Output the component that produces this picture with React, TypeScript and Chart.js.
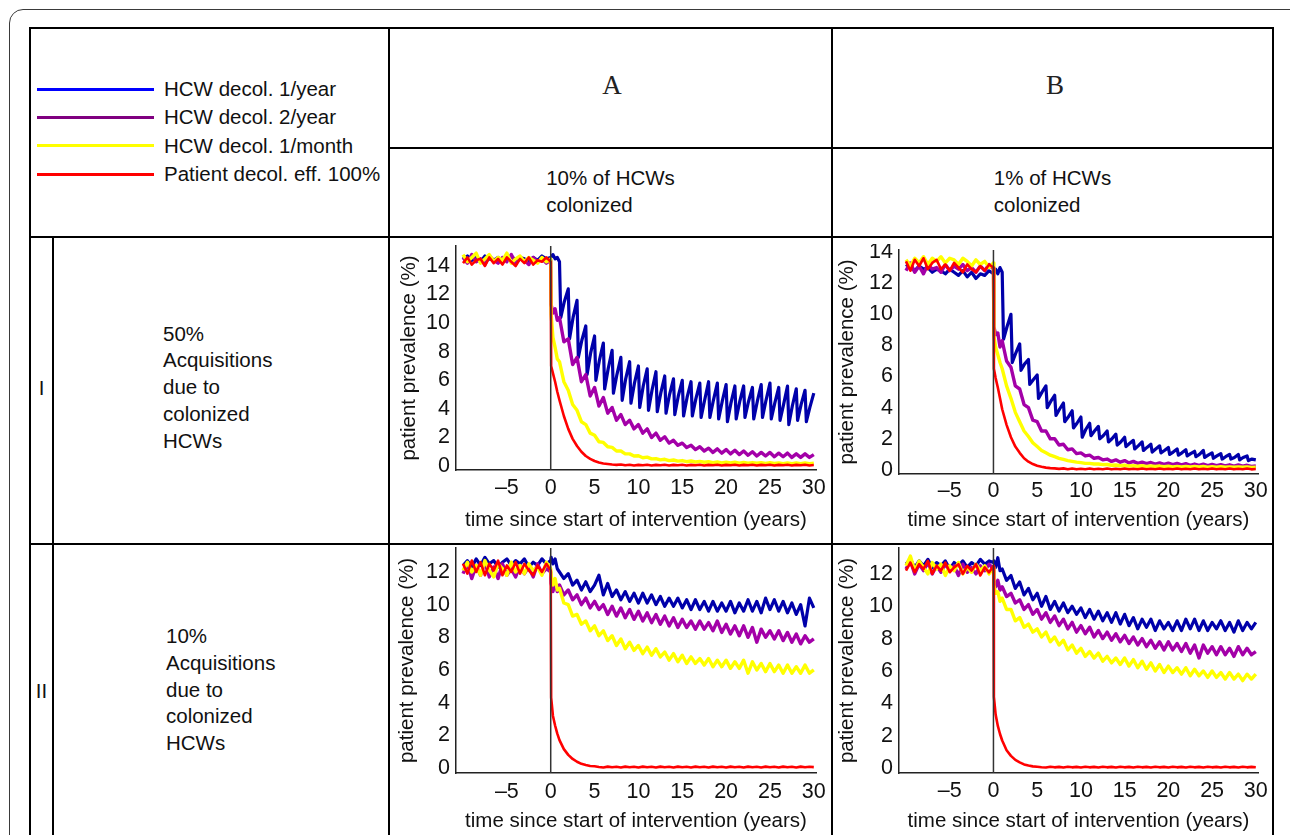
import React, { useEffect, useRef } from 'react';
import { Chart, registerables } from 'chart.js';
Chart.register(...registerables);

// ---------- time axes (years since start of intervention) ----------
const tMain = [-10,-9.5,-9,-8.5,-8,-7.5,-7,-6.5,-6,-5.5,-5,-4.5,-4,-3.5,-3,-2.5,-2,-1.5,-1,-0.5,0,
  0.05,0.25,0.5,0.75,
  1,1.5,2,2.5,3,3.5,4,4.5,5,5.5,6,6.5,7,7.5,8,8.5,9,9.5,10,10.5,11,11.5,12,12.5,13,13.5,14,14.5,15,15.5,
  16,16.5,17,17.5,18,18.5,19,19.5,20,20.5,21,21.5,22,22.5,23,23.5,24,24.5,25,25.5,26,26.5,27,27.5,28,28.5,29,29.5,30];

const tSaw = [-10,-9.5,-9,-8.5,-8,-7.5,-7,-6.5,-6,-5.5,-5,-4.5,-4,-3.5,-3,-2.5,-2,-1.5,-1,-0.5,0,
  0.25,0.5,0.75,1,
  1.15,1.55,2, 2.15,2.55,3, 3.15,3.55,4, 4.15,4.55,5, 5.15,5.55,6, 6.15,6.55,7, 7.15,7.55,8, 8.15,8.55,9,
  9.15,9.55,10, 10.15,10.55,11, 11.15,11.55,12, 12.15,12.55,13, 13.15,13.55,14, 14.15,14.55,15,
  15.15,15.55,16, 16.15,16.55,17, 17.15,17.55,18, 18.15,18.55,19, 19.15,19.55,20, 20.15,20.55,21,
  21.15,21.55,22, 22.15,22.55,23, 23.15,23.55,24, 24.15,24.55,25, 25.15,25.55,26, 26.15,26.55,27,
  27.15,27.55,28, 28.15,28.55,29, 29.15,29.55,30];

const xTickValues = [-5, 0, 5, 10, 15, 20, 25, 30];
const yTicksI = [0, 2, 4, 6, 8, 10, 12, 14];
const yTicksII = [0, 2, 4, 6, 8, 10, 12];

// ---------- Row I, column A (50% acquisitions, 10% HCWs colonized) ----------
const iaBlue = [14.5,14.7,14.4,14.6,14.3,14.7,14.5,14.4,14.6,14.3,14.5,14.7,14.4,14.6,14.5,14.3,14.6,14.4,14.7,14.5,14.6,
  14.8,14.5,14.6,14.3,
  10.4,11.5,12.4, 8.9,10.4,11.6, 7.6,8.8,9.8, 6.4,7.9,9.1, 6.0,7.4,8.6, 5.4,6.8,8.1, 5.1,6.4,7.6, 4.6,6.1,7.3,
  4.4,5.8,7.0, 4.1,5.6,6.8, 3.9,5.3,6.6, 3.8,5.1,6.3, 3.7,5.0,6.1, 3.6,4.9,6.0, 3.5,4.8,5.9, 3.5,4.7,5.8,
  3.4,4.6,5.9, 3.4,4.6,5.8, 3.3,4.5,5.7, 3.1,4.4,5.6, 3.3,4.5,5.6, 3.4,4.5,5.5, 3.3,4.5,5.7, 3.4,4.6,5.8,
  3.3,4.4,5.5, 3.2,4.3,5.6, 2.9,4.2,5.4, 3.2,4.3,5.3, 3.1,4.1,5.1];
const iaPurple = [14.6,14.2,14.8,14.3,14.5,14.1,14.7,14.4,14.2,14.6,14.3,14.8,14.2,14.5,14.4,14.1,14.6,14.3,14.5,14.2,14.4,
  11.3,10.7,11.0,10.2,
  10.4,8.7,8.9,7.1,7.6,5.9,6.4,4.9,5.5,4.2, 4.8,3.7,4.1,3.2,3.6,2.9,3.2,2.6,2.9,2.3,
  2.6,2.0,2.3,1.8,2.05,1.6,1.8,1.45,1.6,1.3, 1.45,1.15,1.35,1.05,1.25,0.95,1.2,0.9,1.15,0.85,
  1.1,0.8,1.05,0.75,1.0,0.7,0.95,0.7,0.95,0.65, 0.9,0.65,0.9,0.6,0.85,0.6,0.85,0.6,0.8];
const iaYellow = [14.8,14.3,14.6,14.9,14.2,14.5,14.8,14.3,14.6,14.4,14.9,14.2,14.5,14.7,14.3,14.6,14.4,14.2,14.6,14.3,14.5,
  10.6,9.0,8.3,7.5,
  7.3,5.9,5.3,4.3,3.9,3.1,2.9,2.3,2.15,1.7, 1.65,1.35,1.3,1.05,1.05,0.85,0.85,0.7,0.72,0.58,
  0.62,0.5,0.52,0.43,0.47,0.38,0.42,0.34,0.38,0.3, 0.35,0.28,0.32,0.26,0.3,0.24,0.28,0.22,0.27,0.21,
  0.26,0.2,0.25,0.2,0.24,0.19,0.23,0.18,0.23,0.18, 0.22,0.17,0.22,0.17,0.21,0.17,0.21,0.17,0.2];
const iaRed = [14.2,14.6,14.1,14.4,14.5,14.0,14.6,14.2,14.5,14.1,14.6,14.3,14.0,14.5,14.2,14.6,14.1,14.4,14.3,14.6,14.3,
  7.0,6.5,5.9,5.2,
  4.6,3.5,2.6,1.9,1.4,1.0,0.7,0.5,0.35,0.25, 0.18,0.14,0.1,0.08,0.11,0.05,0.09,0.04,0.08,0.05,
  0.09,0.04,0.08,0.05,0.09,0.04,0.08,0.05,0.09,0.04, 0.08,0.05,0.09,0.04,0.08,0.05,0.09,0.04,0.08,0.05,
  0.09,0.04,0.08,0.05,0.09,0.04,0.08,0.05,0.09,0.04, 0.08,0.05,0.09,0.04,0.08,0.05,0.09,0.04,0.07];

// ---------- Row I, column B (50% acquisitions, 1% HCWs colonized) ----------
const ibBlue = [13.2,13.0,12.8,13.1,12.9,13.0,12.7,12.9,12.8,12.6,12.9,12.7,12.5,12.8,12.4,12.7,12.3,12.6,12.5,12.8,12.6,
  12.9,12.6,13.0,12.7,
  8.4,9.2,10.0, 6.9,7.5,8.1, 6.4,6.8,7.1, 5.5,5.8,6.1, 4.6,5.0,5.4, 4.0,4.4,4.8, 3.5,3.9,4.3, 3.1,3.4,3.8,
  2.7,3.0,3.4, 2.1,2.6,3.0, 2.2,2.5,2.8, 2.0,2.2,2.5, 1.8,2.0,2.3, 1.6,1.8,2.1, 1.5,1.7,1.9, 1.35,1.55,1.8,
  1.25,1.45,1.65, 1.15,1.35,1.55, 1.1,1.25,1.45, 1.0,1.15,1.35, 0.95,1.1,1.3, 0.9,1.05,1.2, 0.85,1.0,1.25,
  0.8,0.95,1.1, 0.75,0.9,1.05, 0.7,0.85,1.0, 0.7,0.8,1.0, 0.65,0.8,0.9, 0.6,0.7,0.65];
const ibPurple = [12.8,13.3,12.7,13.1,12.6,13.2,12.9,13.0,12.7,13.2,12.8,13.1,12.9,13.2,12.8,13.0,12.7,13.1,12.8,13.2,12.9,
  9.2,8.7,8.8,7.9,
  8.3,7.0,6.6,5.4,5.2,4.2,4.0,3.2,3.1,2.5, 2.5,2.0,2.0,1.6,1.65,1.3,1.35,1.05,1.1,0.9,
  0.95,0.75,0.8,0.65,0.7,0.55,0.65,0.5,0.6,0.45, 0.55,0.42,0.5,0.4,0.48,0.38,0.45,0.36,0.44,0.34,
  0.42,0.32,0.4,0.3,0.38,0.3,0.37,0.28,0.35,0.27, 0.34,0.26,0.33,0.25,0.32,0.24,0.3,0.23,0.25];
const ibYellow = [13.5,13.1,13.6,13.3,13.7,13.2,13.6,13.4,13.7,13.3,13.6,13.5,13.2,13.6,13.4,13.1,13.5,13.2,13.4,13.0,13.3,
  8.6,7.9,7.4,6.9,
  6.5,5.4,4.6,3.7,3.1,2.5,2.15,1.75,1.5,1.25, 1.1,0.95,0.85,0.75,0.68,0.6,0.55,0.5,0.47,0.42,
  0.42,0.38,0.38,0.34,0.35,0.3,0.32,0.27,0.3,0.25, 0.28,0.24,0.27,0.23,0.26,0.22,0.25,0.21,0.24,0.2,
  0.23,0.2,0.23,0.19,0.22,0.19,0.22,0.18,0.21,0.18, 0.21,0.17,0.2,0.17,0.2,0.17,0.2,0.16,0.18];
const ibRed = [13.4,12.8,13.5,13.1,13.6,12.9,13.3,13.5,12.9,13.2,12.8,13.3,13.0,12.7,13.2,12.9,12.7,13.1,12.8,13.2,13.0,
  6.5,5.9,5.3,4.6,
  3.9,2.9,2.1,1.5,1.1,0.75,0.53,0.38,0.27,0.2, 0.15,0.12,0.1,0.07,0.1,0.05,0.09,0.04,0.08,0.05,
  0.09,0.04,0.08,0.05,0.09,0.04,0.08,0.05,0.09,0.04, 0.08,0.05,0.09,0.04,0.08,0.05,0.09,0.04,0.08,0.05,
  0.09,0.04,0.08,0.05,0.09,0.04,0.08,0.05,0.09,0.04, 0.08,0.05,0.09,0.04,0.08,0.05,0.09,0.04,0.06];

// ---------- Row II, column A (10% acquisitions, 10% HCWs colonized) ----------
const iiaBlue = [12.4,12.7,12.3,12.8,12.4,12.9,12.5,12.7,12.3,12.6,12.8,12.4,12.7,12.5,12.8,12.3,12.6,12.4,12.8,12.5,12.7,
  12.9,12.5,12.8,12.2,
  12.0,11.6,11.9,11.2,11.5,10.9,11.4,10.8,11.2,11.8, 10.6,11.3,10.5,10.9,10.3,10.8,10.2,10.7,10.1,10.7,
  10.1,10.6,10.0,10.5,9.9,10.4,9.9,10.4,9.8,10.3, 9.7,10.3,9.7,10.2,9.6,10.2,9.6,10.1,9.6,10.2,
  9.5,10.1,9.6,10.3,9.6,10.2,9.5,10.4,9.7,10.3, 9.6,10.2,9.5,10.1,9.4,10.0,8.7,10.4,9.8];
const iiaPurple = [11.9,12.5,11.6,12.4,11.8,12.6,11.7,12.3,11.6,12.5,11.8,12.2,11.7,12.4,11.9,12.3,11.7,12.5,11.9,12.2,12.0,
  11.3,10.8,11.4,10.8,
  11.2,10.6,10.9,10.3,10.6,10.0,10.4,9.8,10.2,9.7, 10.0,9.4,9.9,9.3,9.8,9.2,9.7,9.1,9.6,9.0,
  9.5,8.9,9.4,8.8,9.3,8.7,9.2,8.6,9.1,8.6, 9.0,8.5,9.0,8.5,8.9,8.4,9.0,8.3,8.8,8.2,
  8.7,8.1,8.7,8.0,8.6,7.7,8.5,8.0,8.4,7.9, 8.4,7.8,8.3,7.7,8.2,7.6,8.1,7.7,7.9];
const iiaYellow = [12.1,12.6,12.0,12.4,11.8,12.7,12.1,11.7,12.5,12.2,11.8,12.6,12.0,12.4,11.9,12.5,12.1,12.3,11.8,12.6,12.2,
  11.8,11.2,11.6,10.9,
  11.0,10.1,10.0,9.3,9.4,8.8,9.0,8.4,8.7,8.1, 8.4,7.8,8.1,7.5,7.9,7.3,7.7,7.2,7.5,7.0,
  7.4,6.9,7.3,6.8,7.1,6.6,7.0,6.5,6.9,6.4, 6.8,6.4,6.7,6.3,6.7,6.2,6.6,6.2,6.6,6.1,
  6.5,6.1,6.6,5.8,6.5,6.0,6.4,5.9,6.4,5.9, 6.3,5.8,6.3,5.8,6.2,5.8,6.3,5.8,6.0];
const iiaRed = [12.5,11.9,12.7,12.0,12.6,11.8,12.5,12.1,12.7,11.8,12.4,12.0,12.6,11.9,12.5,12.1,11.8,12.4,12.0,12.5,12.1,
  4.3,3.2,2.6,2.1,
  1.7,1.15,0.8,0.55,0.38,0.25,0.18,0.12,0.1,0.06, 0.03,0.08,0.04,0.07,0.03,0.08,0.04,0.07,0.03,0.08,
  0.04,0.07,0.03,0.08,0.04,0.07,0.03,0.08,0.04,0.07, 0.03,0.08,0.04,0.07,0.03,0.08,0.04,0.07,0.03,0.08,
  0.04,0.07,0.03,0.08,0.04,0.07,0.03,0.08,0.04,0.07, 0.03,0.08,0.04,0.07,0.03,0.08,0.04,0.07,0.05];

// ---------- Row II, column B (10% acquisitions, 1% HCWs colonized) ----------
const iibBlue = [12.6,12.9,12.4,12.8,12.5,12.9,12.4,12.7,12.5,12.8,12.3,12.7,12.5,12.8,12.4,12.7,12.5,12.9,12.6,12.8,12.7,
  12.8,12.4,13.0,12.2,
  12.3,11.6,11.9,11.1,11.5,10.7,11.1,10.4,10.8,10.0, 10.6,9.8,10.3,9.7,10.2,9.6,10.0,9.5,9.9,9.3,
  9.8,9.2,9.7,9.1,9.6,9.0,9.6,8.9,9.5,8.8, 9.3,8.6,9.2,8.7,9.2,8.5,9.1,8.6,9.0,8.5,
  9.1,8.5,9.2,8.6,9.2,8.5,9.1,8.5,9.0,8.6, 9.1,8.5,9.0,8.4,9.1,8.5,9.0,8.6,9.0];
const iibPurple = [12.3,12.8,12.0,12.6,12.2,12.7,12.0,12.5,12.1,12.6,12.2,12.5,11.9,12.6,12.1,12.4,12.0,12.5,12.2,12.6,12.3,
  11.6,11.2,11.6,11.0,
  11.2,10.6,10.8,10.2,10.4,9.8,10.1,9.5,9.8,9.2, 9.6,9.0,9.4,8.8,9.2,8.6,9.0,8.4,8.8,8.3,
  8.7,8.1,8.5,8.0,8.4,7.9,8.3,7.8,8.2,7.7, 8.1,7.6,8.0,7.5,7.9,7.4,7.8,7.3,7.8,7.3,
  7.7,7.2,7.7,7.1,7.6,6.8,7.6,7.1,7.5,7.0, 7.5,7.0,7.4,6.9,7.5,7.0,7.4,7.0,7.2];
const iibYellow = [12.5,13.1,12.2,12.8,12.4,12.0,12.7,12.3,12.6,11.9,12.5,12.2,12.7,12.0,12.4,12.1,12.6,12.2,12.5,12.0,12.4,
  11.3,10.8,10.9,10.3,
  10.5,9.8,9.8,9.1,9.3,8.7,8.9,8.4,8.6,8.1, 8.4,7.8,8.1,7.6,7.9,7.3,7.6,7.1,7.4,6.9,
  7.2,6.8,7.1,6.6,6.9,6.5,6.8,6.4,6.8,6.3, 6.7,6.2,6.6,6.1,6.5,6.0,6.4,5.9,6.3,5.9,
  6.2,5.8,6.2,5.7,6.1,5.7,6.0,5.6,6.0,5.6, 5.9,5.5,5.9,5.5,5.8,5.4,5.8,5.5,5.8];
const iibRed = [12.2,12.7,12.1,12.6,12.3,12.8,12.0,12.5,12.2,12.7,12.1,12.4,12.6,12.0,12.5,12.2,12.6,11.9,12.4,12.1,12.5,
  4.4,3.3,2.6,2.1,
  1.7,1.1,0.75,0.5,0.35,0.22,0.15,0.1,0.08,0.05, 0.03,0.08,0.04,0.07,0.03,0.08,0.04,0.07,0.03,0.08,
  0.04,0.07,0.03,0.08,0.04,0.07,0.03,0.08,0.04,0.07, 0.03,0.08,0.04,0.07,0.03,0.08,0.04,0.07,0.03,0.08,
  0.04,0.07,0.03,0.08,0.04,0.07,0.03,0.08,0.04,0.07, 0.03,0.08,0.04,0.07,0.03,0.08,0.04,0.07,0.05];

// ---------- legend ----------
const legendLabels = ['HCW decol. 1/year', 'HCW decol. 2/year', 'HCW decol. 1/month', 'Patient decol. eff. 100%'];
const legendColors = ['#0000ff', '#800080', '#ffff00', '#ff0000'];
const plotColors = { blue: '#0000aa', purple: '#a300a8', yellow: '#ffff00', red: '#ff0000' };

const SANS = '"Liberation Sans", Arial, Helvetica, sans-serif';

function zip(t: number[], v: number[]) {
  const n = Math.min(t.length, v.length);
  const out: { x: number; y: number }[] = [];
  for (let i = 0; i < n; i++) out.push({ x: t[i], y: v[i] });
  return out;
}

type PanelProps = {
  left: number; top: number; width: number; height: number;
  padTop: number; padRight: number; yW: number; xH: number;
  yMin: number; yMax: number; yTicks: number[];
  xTitlePad: number; yTitlePad: number; xTickPad: number;
  blue: number[]; blueT: number[]; purple: number[]; yellow: number[]; red: number[];
};

function Panel(p: PanelProps) {
  const ref = useRef<HTMLCanvasElement | null>(null);
  useEffect(() => {
    if (!ref.current) return;
    const chart = new Chart(ref.current, {
      type: 'line',
      data: {
        datasets: [
          { data: [{ x: 0, y: p.yMin }, { x: 0, y: p.yMax }], borderColor: '#333333', borderWidth: 1.5 },
          { data: zip(tMain, p.red), borderColor: plotColors.red, borderWidth: 2.6 },
          { data: zip(tMain, p.yellow), borderColor: plotColors.yellow, borderWidth: 3.4 },
          { data: zip(tMain, p.purple), borderColor: plotColors.purple, borderWidth: 3.4 },
          { data: zip(p.blueT, p.blue), borderColor: plotColors.blue, borderWidth: 3.2 },
        ] as any,
      },
      options: {
        animation: false,
        responsive: false,
        maintainAspectRatio: false,
        devicePixelRatio: 1,
        layout: { padding: { left: 0, right: p.padRight, top: p.padTop, bottom: 0 } },
        plugins: { legend: { display: false }, tooltip: { enabled: false } },
        elements: { point: { radius: 0 }, line: { tension: 0, fill: false, borderJoinStyle: 'round' } },
        scales: {
          x: {
            type: 'linear', min: -10.8, max: 30.25,
            grid: { display: false, drawTicks: false },
            border: { display: true, color: '#222222', width: 1.5 },
            ticks: {
              font: { family: SANS, size: 21.5 }, color: '#111111', padding: p.xTickPad,
              autoSkip: false, maxRotation: 0,
              callback: (v: any) => (Number(v) < 0 ? '\u2013' + Math.abs(Number(v)) : String(v)),
            },
            afterBuildTicks: (s: any) => { s.ticks = xTickValues.map((v) => ({ value: v })); },
            afterFit: (s: any) => { s.height = p.xH; s.paddingLeft = 0; s.paddingRight = 0; },
            title: {
              display: true, text: 'time since start of intervention (years)',
              font: { family: SANS, size: 20.5 }, color: '#111111',
              padding: { top: 0, bottom: p.xTitlePad },
            },
          },
          y: {
            type: 'linear', min: p.yMin, max: p.yMax,
            grid: { display: false, drawTicks: false },
            border: { display: true, color: '#222222', width: 1.5 },
            ticks: { font: { family: SANS, size: 21.5 }, color: '#111111', padding: 6, autoSkip: false },
            afterBuildTicks: (s: any) => { s.ticks = p.yTicks.map((v) => ({ value: v })); },
            afterFit: (s: any) => { s.width = p.yW; s.paddingTop = 0; s.paddingBottom = 0; },
            title: {
              display: true, text: 'patient prevalence (%)',
              font: { family: SANS, size: 20.5 }, color: '#111111',
              padding: { top: p.yTitlePad, bottom: 0 },
            },
          },
        },
      } as any,
    });
    return () => chart.destroy();
  }, []);
  return (
    <canvas
      ref={ref}
      width={p.width}
      height={p.height}
      style={{ position: 'absolute', left: p.left, top: p.top, width: p.width, height: p.height }}
    />
  );
}

function HLine({ x, y, w }: { x: number; y: number; w: number }) {
  return <div style={{ position: 'absolute', left: x, top: y - 1, width: w, height: 2, background: '#000' }} />;
}
function VLine({ x, y, h }: { x: number; y: number; h: number }) {
  return <div style={{ position: 'absolute', left: x - 1, top: y, width: 2, height: h, background: '#000' }} />;
}

const headerFont = '"Liberation Serif", "Times New Roman", serif';

export default function App() {
  const rowText = (lines: string[], left: number, top: number, height: number) => (
    <div style={{ position: 'absolute', left, top, height, display: 'flex', alignItems: 'center' }}>
      <div style={{ fontSize: 20.5, lineHeight: '26.8px', color: '#111' }}>
        {lines.map((l, i) => <div key={i}>{l}</div>)}
      </div>
    </div>
  );
  return (
    <div style={{ position: 'absolute', left: 0, top: 0, width: 1290, height: 835, overflow: 'hidden', background: '#fff', fontFamily: SANS }}>
      <div style={{ position: 'absolute', left: 9, top: 9, width: 1300, height: 900, border: '1.5px solid #3a3a3a', borderRadius: 14, boxSizing: 'border-box' }} />
      {/* table grid */}
      <HLine x={29} y={28} w={1245} />
      <HLine x={388} y={148} w={886} />
      <HLine x={29} y={237} w={1245} />
      <HLine x={29} y={544} w={1245} />
      <VLine x={30} y={27} h={820} />
      <VLine x={389} y={27} h={820} />
      <VLine x={832} y={27} h={820} />
      <VLine x={1273} y={27} h={820} />
      <VLine x={53} y={237} h={610} />

      {/* legend */}
      {legendLabels.map((lab, i) => {
        const y = 89 + i * 28.4;
        return (
          <React.Fragment key={i}>
            <div style={{ position: 'absolute', left: 37, top: y - 1.5, width: 117, height: 3, background: legendColors[i] }} />
            <div style={{ position: 'absolute', left: 164, top: y - 13, height: 26, lineHeight: '26px', fontSize: 20.5, whiteSpace: 'nowrap', color: '#111' }}>{lab}</div>
          </React.Fragment>
        );
      })}

      {/* column headers */}
      <div style={{ position: 'absolute', left: 389, top: 28, width: 446, height: 114, display: 'flex', alignItems: 'center', justifyContent: 'center', fontFamily: headerFont, fontSize: 27, color: '#222' }}>A</div>
      <div style={{ position: 'absolute', left: 832, top: 28, width: 446, height: 114, display: 'flex', alignItems: 'center', justifyContent: 'center', fontFamily: headerFont, fontSize: 27, color: '#222' }}>B</div>
      <div style={{ position: 'absolute', left: 389, top: 148, width: 443, height: 85, display: 'flex', alignItems: 'center', justifyContent: 'center' }}>
        <div style={{ fontSize: 20.5, lineHeight: '27px', color: '#111' }}><div>10% of HCWs</div><div>colonized</div></div>
      </div>
      <div style={{ position: 'absolute', left: 832, top: 148, width: 441, height: 85, display: 'flex', alignItems: 'center', justifyContent: 'center' }}>
        <div style={{ fontSize: 20.5, lineHeight: '27px', color: '#111' }}><div>1% of HCWs</div><div>colonized</div></div>
      </div>

      {/* row labels */}
      <div style={{ position: 'absolute', left: 30, top: 237, width: 23, height: 301, display: 'flex', alignItems: 'center', justifyContent: 'center', fontSize: 20.5, color: '#111' }}>I</div>
      <div style={{ position: 'absolute', left: 30, top: 544, width: 23, height: 294, display: 'flex', alignItems: 'center', justifyContent: 'center', fontSize: 20.5, color: '#111' }}>II</div>
      {rowText(['50%', 'Acquisitions', 'due to', 'colonized', 'HCWs'], 163, 237, 301)}
      {rowText(['10%', 'Acquisitions', 'due to', 'colonized', 'HCWs'], 166, 544, 292)}

      {/* charts */}
      <Panel left={392} top={240} width={438} height={302} padTop={6} padRight={14} yW={64} xH={72}
        yMin={-0.28} yMax={15.4} yTicks={yTicksI} xTitlePad={9.7} yTitlePad={4.7} xTickPad={5}
        blue={iaBlue} blueT={tSaw} purple={iaPurple} yellow={iaYellow} red={iaRed} />
      <Panel left={835} top={244} width={435} height={298} padTop={6} padRight={12} yW={64} xH={68}
        yMin={-0.26} yMax={14.13} yTicks={yTicksI} xTitlePad={9.7} yTitlePad={0} xTickPad={4}
        blue={ibBlue} blueT={tSaw} purple={ibPurple} yellow={ibYellow} red={ibRed} />
      <Panel left={392} top={546} width={438} height={289} padTop={2} padRight={14} yW={64} xH={62}
        yMin={-0.31} yMax={13.47} yTicks={yTicksII} xTitlePad={1.7} yTitlePad={2.7} xTickPad={6}
        blue={iiaBlue} blueT={tMain} purple={iiaPurple} yellow={iiaYellow} red={iiaRed} />
      <Panel left={835} top={546} width={435} height={289} padTop={2} padRight={12} yW={64} xH={62}
        yMin={-0.31} yMax={13.6} yTicks={yTicksII} xTitlePad={1.7} yTitlePad={0} xTickPad={5}
        blue={iibBlue} blueT={tMain} purple={iibPurple} yellow={iibYellow} red={iibRed} />
    </div>
  );
}
